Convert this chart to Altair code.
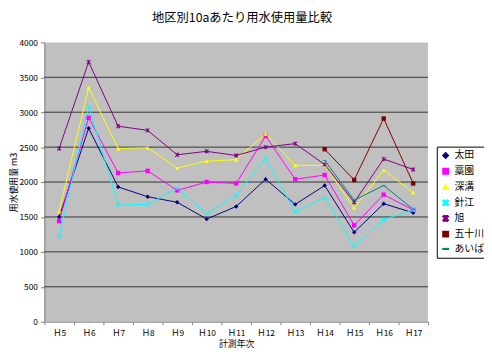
import altair as alt
import pandas as pd

years = ["Ｈ5", "Ｈ6", "Ｈ7", "Ｈ8", "Ｈ9", "Ｈ10", "Ｈ11", "Ｈ12", "Ｈ13", "Ｈ14", "Ｈ15", "Ｈ16", "Ｈ17"]
series_names = ["太田", "藁園", "深溝", "針江", "旭", "五十川", "あいば"]

ota = [1500, 2770, 1930, 1790, 1710, 1470, 1650, 2040, 1680, 1950, 1280, 1690, 1560]
warazono = [1440, 2920, 2130, 2160, 1880, 2000, 1980, 2660, 2040, 2100, 1380, 1820, 1600]
fukamizo = [1580, 3350, 2480, 2490, 2200, 2300, 2320, 2690, 2240, 2240, 1630, 2170, 1850]
harie = [1220, 3080, 1670, 1680, 1910, 1550, 1810, 2340, 1570, 1780, 1080, 1460, 1600]
asahi = [2480, 3720, 2800, 2740, 2390, 2440, 2380, 2500, 2550, 2250, 1710, 2330, 2180]
isogawa = [None, None, None, None, None, None, None, None, None, 2470, 2030, 2910, 1980]
aiba = [None, None, None, None, None, None, None, None, None, 2310, 1740, 1950, 1610]

colors = ["#000080", "#FF00FF", "#FFFF00", "#00FFFF", "#800080", "#800000", "#008080"]
X_PATH = ("M-1,-0.7L-0.7,-1L0,-0.3L0.7,-1L1,-0.7L0.3,0L1,0.7L0.7,1"
          "L0,0.3L-0.7,1L-1,0.7L-0.3,0Z")
STAR_PATH = X_PATH + "M-0.15,-1L0.15,-1L0.15,1L-0.15,1Z"
DASH_PATH = "M-1,-0.12L1,-0.12L1,0.12L-1,0.12Z"
shapes = ["diamond", "square", "triangle-up", X_PATH, STAR_PATH, "square", DASH_PATH]
grid_values = [500, 1000, 1500, 2000, 2500, 3000, 3500]
y_ticks = [0, 500, 1000, 1500, 2000, 2500, 3000, 3500, 4000]

rows = []
for name, vals in zip(series_names, [ota, warazono, fukamizo, harie, asahi, isogawa, aiba]):
    for i, (yr, v) in enumerate(zip(years, vals)):
        if v is not None:
            rows.append({"地区": name, "年次": yr, "値": v, "idx": i})
df = pd.DataFrame(rows)
grid_df = pd.DataFrame({"g": grid_values})

FONT = "Noto Sans CJK JP"

x_enc = alt.X(
    "年次:N",
    sort=years,
    scale=alt.Scale(domain=years, paddingInner=0, paddingOuter=0),
    axis=alt.Axis(
        title="計測年次",
        labelAngle=0,
        tickBand="extent",
        tickSize=3,
        labelPadding=4,
        titlePadding=3,
        titleAnchor="middle",
        domainColor="#808080",
        tickColor="#808080",
    ),
)
y_scale = alt.Scale(domain=[0, 4000], nice=False)
y_axis = alt.Axis(
    title="用水使用量 m3",
    values=y_ticks,
    format="d",
    grid=False,
    tickSize=4,
    labelPadding=3,
    titleX=-31,
    titleY=142,
    titleAngle=270,
    titleAlign="center",
    titleBaseline="middle",
    domainColor="#808080",
    tickColor="#808080",
)
y_enc = alt.Y("値:Q", scale=y_scale, axis=y_axis)

color_scale = alt.Scale(domain=series_names, range=colors)
color_enc = alt.Color(
    "地区:N",
    scale=color_scale,
    legend=alt.Legend(
        title=None,
        orient="none",
        legendX=399,
        legendY=106,
        strokeColor="#000000",
        fillColor="#FFFFFF",
        padding=4,
        rowPadding=4,
        symbolSize=30,
        labelFontSize=10,
        labelFont=FONT,
        labelColor="#000000",
    ),
)
shape_enc = alt.Shape("地区:N", scale=alt.Scale(domain=series_names, range=shapes))

grid = alt.Chart(grid_df).mark_rule(color="#333333", strokeWidth=1).encode(
    y=alt.Y("g:Q", scale=y_scale, axis=y_axis)
)

lines = alt.Chart(df).mark_line(strokeWidth=1).encode(
    x=x_enc,
    y=y_enc,
    color=alt.Color("地区:N", scale=color_scale),
    detail="地区:N",
    order="idx:Q",
)

points = alt.Chart(df).mark_point(filled=True, size=20, opacity=1).encode(
    x=x_enc,
    y=y_enc,
    color=color_enc,
    shape=shape_enc,
)

chart = (
    alt.layer(grid, lines, points)
    .properties(
        width=390,
        height=284,
        padding={"left": 37, "top": 32, "right": 57, "bottom": 37},
        autosize=alt.AutoSizeParams(type="none"),
        background="#FFFFFF",
        title=alt.TitleParams(
            "地区別10aあたり用水使用量比較",
            font=FONT,
            fontSize=12.5,
            fontWeight="normal",
            color="#000000",
            anchor="middle",
            frame="group",
            dx=6,
            offset=14,
        ),
    )
    .configure_view(fill="#C0C0C0", stroke=None)
    .configure_axis(
        labelFont=FONT,
        titleFont=FONT,
        labelFontSize=8.5,
        titleFontSize=9,
        labelColor="#000000",
        titleColor="#000000",
        titleFontWeight="normal",
    )
)

chart.save("out.html", embed_options={"renderer": "svg", "actions": False})
